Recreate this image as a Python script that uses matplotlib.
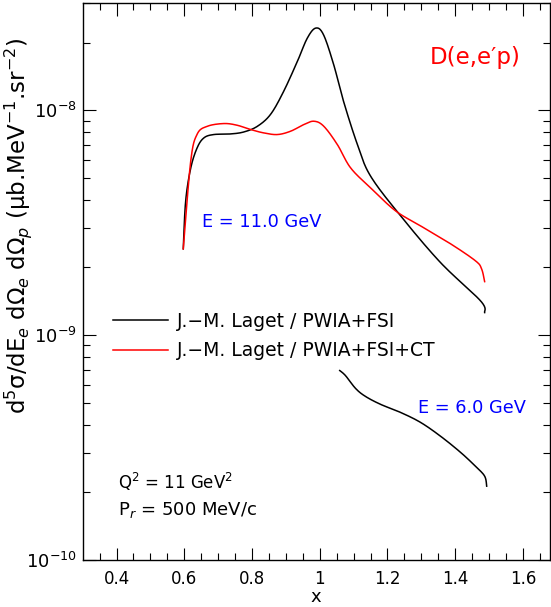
import matplotlib
matplotlib.use("Agg")
import matplotlib.pyplot as plt
import matplotlib.ticker as mticker
import numpy as np

plt.rcParams['font.family'] = ['DejaVu Sans']
plt.rcParams['mathtext.fontset'] = 'dejavusans'

# E = 11 GeV, PWIA+FSI
x_fsi = [0.597, 0.604, 0.619, 0.638, 0.658, 0.687, 0.737, 0.776, 0.816, 0.855,
         0.893, 0.934, 0.963, 0.988, 1.011, 1.041, 1.070, 1.111, 1.150, 1.239,
         1.357, 1.475, 1.487]
y_fsi = [2.42e-9, 3.94e-9, 5.53e-9, 6.81e-9, 7.54e-9, 7.80e-9, 7.85e-9, 8.01e-9,
         8.49e-9, 9.60e-9, 1.21e-8, 1.65e-8, 2.09e-8, 2.32e-8, 2.17e-8, 1.60e-8,
         1.10e-8, 7.06e-9, 5.10e-9, 3.39e-9, 2.10e-9, 1.42e-9, 1.26e-9]

# E = 11 GeV, PWIA+FSI+CT
x_ct = [0.597, 0.619, 0.638, 0.668, 0.717, 0.756, 0.796, 0.835, 0.875, 0.914,
        0.953, 0.983, 1.012, 1.052, 1.091, 1.150, 1.224, 1.298, 1.386, 1.460,
        1.478, 1.487]
y_ct = [2.42e-9, 5.94e-9, 7.83e-9, 8.49e-9, 8.73e-9, 8.58e-9, 8.21e-9, 7.93e-9,
        7.80e-9, 8.07e-9, 8.64e-9, 8.94e-9, 8.49e-9, 7.04e-9, 5.55e-9, 4.52e-9,
        3.57e-9, 3.06e-9, 2.55e-9, 2.14e-9, 1.97e-9, 1.73e-9]

# E = 6 GeV, PWIA+FSI
x_6 = [1.059, 1.076, 1.106, 1.135, 1.180, 1.239, 1.298, 1.357, 1.416, 1.460,
       1.487, 1.493]
y_6 = [6.96e-10, 6.61e-10, 5.79e-10, 5.34e-10, 4.92e-10, 4.53e-10, 4.09e-10,
       3.55e-10, 3.01e-10, 2.61e-10, 2.36e-10, 2.13e-10]

xticks = [0.4, 0.6, 0.8, 1.0, 1.2, 1.4, 1.6]
xtick_labels = ['0.4', '0.6', '0.8', '1', '1.2', '1.4', '1.6']


def smooth(x, y):
    # Catmull-Rom through the samples, done in (x, log y)
    pts = np.column_stack([np.asarray(x), np.log10(y)])
    pts = np.vstack([pts[0], pts, pts[-1]])
    px, py = [], []
    for i in range(1, len(pts) - 2):
        p0, p1, p2, p3 = pts[i - 1], pts[i], pts[i + 1], pts[i + 2]
        s = np.linspace(0, 1, 20, endpoint=False)[:, None]
        c = 0.5 * ((2 * p1) + (-p0 + p2) * s + (2 * p0 - 5 * p1 + 4 * p2 - p3) * s ** 2
                   + (-p0 + 3 * p1 - 3 * p2 + p3) * s ** 3)
        px.append(c[:, 0]); py.append(c[:, 1])
    px.append([x[-1]]); py.append([np.log10(y[-1])])
    return np.concatenate(px), 10 ** np.concatenate(py)


fig = plt.figure(figsize=(5.51, 6.07), dpi=100)
ax = fig.add_axes([82.7 / 551, 1 - 560 / 607, 467.3 / 551, 557 / 607])

sx, sy = smooth(x_fsi, y_fsi)
ax.plot(sx, sy, color='black', lw=1.1, label='J.\u2212M. Laget / PWIA+FSI')
sx, sy = smooth(x_ct, y_ct)
ax.plot(sx, sy, color='red', lw=1.1, label='J.\u2212M. Laget / PWIA+FSI+CT')
sx, sy = smooth(x_6, y_6)
ax.plot(sx, sy, color='black', lw=1.1)

ax.set_yscale('log')
ax.set_xlim(0.3, 1.68)
ax.set_ylim(1e-10, 3e-8)

ax.set_xticks(xticks)
ax.set_xticklabels(xtick_labels)
ax.set_xticks(np.arange(0.35, 1.67, 0.05), minor=True)
ax.yaxis.set_major_locator(mticker.LogLocator(base=10))
ax.yaxis.set_minor_locator(mticker.LogLocator(base=10, subs=np.arange(2, 10)))
ax.yaxis.set_minor_formatter(mticker.NullFormatter())

ax.tick_params(which='both', direction='in', top=True, right=True, width=0.8)
ax.tick_params(which='major', length=9, labelsize=12)
ax.tick_params(axis='y', which='major', labelsize=13, pad=4)
ax.tick_params(axis='x', which='major', pad=7)
ax.tick_params(which='minor', length=5)
for s in ax.spines.values():
    s.set_linewidth(1.0)

ax.legend(loc='upper left', bbox_to_anchor=(0.065, 0.446), frameon=False,
          fontsize=13.5, handlelength=2.93, handletextpad=0.48, labelspacing=0.58,
          borderpad=0, borderaxespad=0)

ax.text(0.839, 0.903, 'D(e,e\u2032p)', color='red', fontsize=16.5,
        ha='center', va='center', transform=ax.transAxes)
ax.text(0.2547, 0.607, 'E = 11.0 GeV', color='blue', fontsize=12.8,
        ha='left', va='center', transform=ax.transAxes)
ax.text(0.718, 0.273, 'E = 6.0 GeV', color='blue', fontsize=12.8,
        ha='left', va='center', transform=ax.transAxes)
ax.text(0.0755, 0.140, r'Q$^2$ = 11 GeV$^2$', fontsize=12,
        ha='left', va='center', transform=ax.transAxes)
ax.text(0.0755, 0.0898, r'P$_r$ = 500 MeV/c', fontsize=13,
        ha='left', va='center', transform=ax.transAxes)

fig.text(316 / 551, 1 - 597 / 607, 'x', fontsize=13, ha='center', va='center')
fig.text(18 / 551, 1 - 226 / 607,
         'd$^5$\u03c3/dE$_e$ d\u03a9$_e$ d\u03a9$_p$ (\u03bcb.MeV$^{-1}$.sr$^{-2}$)',
         fontsize=16.5, rotation=90, ha='center', va='center')

fig.savefig('out.png', dpi=100)
